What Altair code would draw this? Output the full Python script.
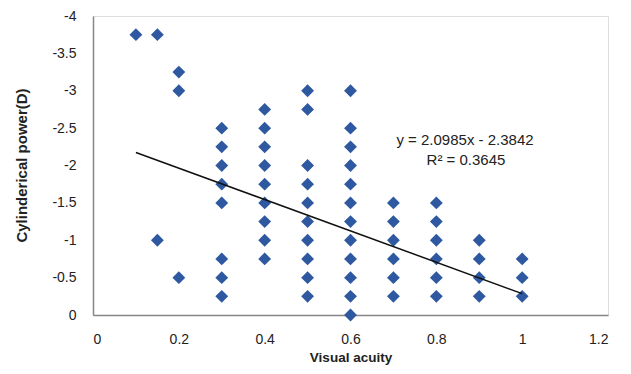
import altair as alt
import pandas as pd

# Data
visual_acuity = (
    [0.1]
    + [0.15] * 2
    + [0.2] * 3
    + [0.3] * 8
    + [0.4] * 9
    + [0.5] * 10
    + [0.6] * 12
    + [0.7] * 6
    + [0.8] * 6
    + [0.9] * 4
    + [1.0] * 3
)
cyl_power = (
    [-3.75]
    + [-3.75, -1.0]
    + [-3.25, -3.0, -0.5]
    + [-2.5, -2.25, -2.0, -1.75, -1.5, -0.75, -0.5, -0.25]
    + [-2.75, -2.5, -2.25, -2.0, -1.75, -1.5, -1.25, -1.0, -0.75]
    + [-3.0, -2.75, -2.0, -1.75, -1.5, -1.25, -1.0, -0.75, -0.5, -0.25]
    + [-3.0, -2.5, -2.25, -2.0, -1.75, -1.5, -1.25, -1.0, -0.75, -0.5, -0.25, 0.0]
    + [-1.5, -1.25, -1.0, -0.75, -0.5, -0.25]
    + [-1.5, -1.25, -1.0, -0.75, -0.5, -0.25]
    + [-1.0, -0.75, -0.5, -0.25]
    + [-0.75, -0.5, -0.25]
)
slope = 2.0985
intercept = -2.3842
trend_x = [0.1, 1.0]
x_ticks = [0, 0.2, 0.4, 0.6, 0.8, 1, 1.2]
y_ticks = [0.0, -0.5, -1.0, -1.5, -2.0, -2.5, -3.0, -3.5, -4.0]
eq_line1 = "y = 2.0985x - 2.3842"
eq_line2 = "R² = 0.3645"

pts = pd.DataFrame({"x": visual_acuity, "y": cyl_power})
trend = pd.DataFrame({"x": trend_x})

font = "Liberation Sans"
ink = "#222222"
x_scale = alt.Scale(domain=[0, 1.2], nice=False, zero=False)
y_scale = alt.Scale(domain=[-4, 0], reverse=True, nice=False, zero=False)

x_axis = alt.Axis(
    values=x_ticks, format="~g", ticks=False, grid=False, labelOverlap=False,
    domainColor="#868686", domainWidth=1.5,
    labelFont=font, labelFontSize=14, labelColor=ink, labelPadding=17,
    title="Visual acuity", titleFont=font, titleFontSize=13.5, titleFontWeight="bold",
    titleColor=ink, titleY=42, titleBaseline="middle",
)
y_axis = alt.Axis(
    values=y_ticks, ticks=False, grid=False, labelOverlap=False,
    format="~g", labelExpr="replace(datum.label, '\u2212', '-')",
    domainColor="#868686", domainWidth=1.5,
    labelFont=font, labelFontSize=14, labelColor=ink, labelPadding=17,
    title="Cylinderical power(D)", titleFont=font, titleFontSize=15,
    titleFontWeight="bold", titleColor=ink, titleX=-72, titleY=149,
    titleAngle=-90, titleAlign="center", titleBaseline="middle",
)

points = alt.Chart(pts).mark_point(
    shape="diamond", filled=True, size=165, color="#2E58A0", opacity=1
).encode(
    x=alt.X("x:Q", scale=x_scale, axis=x_axis),
    y=alt.Y("y:Q", scale=y_scale, axis=y_axis),
)

line = alt.Chart(trend).transform_calculate(
    y=f"{slope} * datum.x + ({intercept})"
).mark_line(color="#111111", strokeWidth=1.5).encode(
    x=alt.X("x:Q", scale=x_scale, axis=x_axis),
    y=alt.Y("y:Q", scale=y_scale, axis=y_axis),
)

text1 = alt.Chart(pd.DataFrame({"t": [eq_line1]})).mark_text(
    font=font, fontSize=15, color=ink, align="center", baseline="middle"
).encode(x=alt.value(372), y=alt.value(124), text="t:N")

text2 = alt.Chart(pd.DataFrame({"t": [eq_line2]})).mark_text(
    font=font, fontSize=15, color=ink, align="center", baseline="middle"
).encode(x=alt.value(373), y=alt.value(144), text="t:N")

chart = alt.layer(points, line, text1, text2).properties(
    width=515,
    height=299,
    autosize=alt.AutoSizeParams(type="none"),
    padding={"left": 85, "top": 8, "right": 15, "bottom": 51},
).configure_view(stroke=None).configure(background="white")

chart.save("out.html", embed_options={"renderer": "svg", "actions": False})
